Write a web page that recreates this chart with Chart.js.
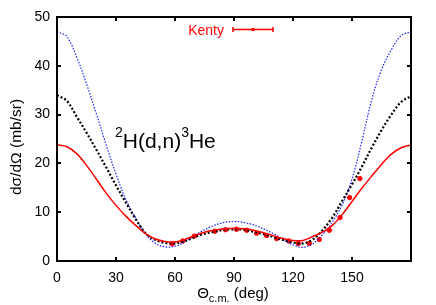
<!DOCTYPE html>
<html>
<head>
<meta charset="utf-8">
<script src="https://cdn.jsdelivr.net/npm/chart.js@4/dist/chart.umd.min.js"></script>
<style>
  html, body { margin: 0; padding: 0; background: #fff; }
  #wrap { width: 436px; height: 305px; }
</style>
</head>
<body>
<div id="wrap"><canvas id="c" width="436" height="305"></canvas></div>
<script>
// ---- data ----
const angles = [0,5,10,15,20,25,30,35,40,45,50,55,60,65,70,75,80,85,90,95,100,105,110,115,120,125,130,135,140,145,150,155,160,165,170,175,180];
const redCurve = [23.8,23.4,22.0,19.6,16.8,13.9,11.4,9.2,7.3,5.6,4.5,4.0,3.9,4.4,5.2,5.9,6.3,6.6,6.7,6.6,6.3,5.8,5.2,4.6,4.2,4.2,5.0,5.9,7.3,9.5,12.2,14.9,17.4,19.8,21.9,23.2,23.8];
const blackCurve = [34.0,32.8,29.6,26.3,22.8,19.2,15.5,12.0,8.6,5.7,4.3,3.7,3.6,4.1,4.9,5.6,6.0,6.4,6.5,6.4,6.0,5.5,4.9,4.3,3.8,3.6,4.4,6.3,8.9,12.3,15.7,19.3,23.2,26.8,30.0,32.6,33.8];
const blueCurve = [47.0,46.0,41.8,36.3,30.2,23.8,17.8,12.6,8.8,5.6,3.6,2.9,3.0,3.9,5.2,6.4,7.3,7.9,8.1,7.9,7.4,6.6,5.6,4.4,3.3,2.8,3.5,5.4,8.0,11.5,16.8,24.5,33.0,39.2,43.3,46.2,47.0];
const kentyAngles = [58.6,63.9,69.8,80.3,85.7,91.3,96.4,101.5,106.6,111.7,117.8,122.7,128.3,133.4,138.5,143.9,148.8,154.0];
const kentyValues = [3.5,4.1,5.1,6.1,6.4,6.5,6.3,5.7,5.2,4.6,4.1,3.6,3.6,4.4,6.3,8.9,13.0,16.9];
const xTickValues = [0,30,60,90,120,150,180];
const yTickValues = [0,10,20,30,40,50];
const legendLabel = "Kenty";
const yTitle = "dσ/dΩ (mb/sr)";
const FONT = "'Liberation Sans', Arial, Helvetica, sans-serif";

const toXY = (xs, ys) => xs.map((v, i) => ({ x: v, y: ys[i] }));

const decorPlugin = {
  id: 'decor',
  afterDatasetsDraw(chart) {
    const { ctx, chartArea: a, scales: { x, y } } = chart;
    ctx.save();
    // frame
    ctx.strokeStyle = '#000';
    ctx.lineWidth = 2;
    ctx.strokeRect(a.left, a.top, a.right - a.left, a.bottom - a.top);
    // inward ticks
    ctx.lineWidth = 2;
    const tl = 4;
    xTickValues.forEach(v => {
      const px = Math.round(x.getPixelForValue(v));
      ctx.beginPath();
      ctx.moveTo(px, a.bottom); ctx.lineTo(px, a.bottom - tl);
      ctx.moveTo(px, a.top); ctx.lineTo(px, a.top + tl);
      ctx.stroke();
    });
    yTickValues.forEach(v => {
      const py = Math.round(y.getPixelForValue(v));
      ctx.beginPath();
      ctx.moveTo(a.left, py); ctx.lineTo(a.left + tl, py);
      ctx.moveTo(a.right, py); ctx.lineTo(a.right - tl, py);
      ctx.stroke();
    });
    // legend
    ctx.fillStyle = '#ff0000';
    ctx.strokeStyle = '#ff0000';
    ctx.font = '14px ' + FONT;
    ctx.textAlign = 'right';
    ctx.textBaseline = 'alphabetic';
    ctx.fillText(legendLabel, 224, 35);
    ctx.lineWidth = 1.5;
    ctx.beginPath();
    ctx.moveTo(233, 29.5); ctx.lineTo(273, 29.5);
    ctx.moveTo(233, 27); ctx.lineTo(233, 32);
    ctx.moveTo(273, 27); ctx.lineTo(273, 32);
    ctx.stroke();
    ctx.beginPath();
    ctx.arc(253, 29.5, 1.8, 0, Math.PI * 2);
    ctx.fill();
    // reaction annotation
    ctx.fillStyle = '#000';
    ctx.textAlign = 'left';
    let cx = 115;
    const base = 148;
    const parts = [["2", true], ["H(d,n)", false], ["3", true], ["He", false]];
    parts.forEach(([t, sup]) => {
      ctx.font = (sup ? '14px ' : '21px ') + FONT;
      ctx.fillText(t, cx, sup ? base - 11 : base);
      cx += ctx.measureText(t).width;
    });
    // y title
    ctx.save();
    ctx.translate(17, 147);
    ctx.rotate(-Math.PI / 2);
    ctx.font = '15.5px ' + FONT;
    ctx.textAlign = 'center';
    ctx.textBaseline = 'middle';
    ctx.fillText(yTitle, 0, 0);
    ctx.restore();
    // x title with subscript
    ctx.font = '15px ' + FONT;
    const w1 = ctx.measureText('Θ').width;
    ctx.font = '11px ' + FONT;
    const w2 = ctx.measureText('c.m.').width;
    ctx.font = '15px ' + FONT;
    const w3 = ctx.measureText(' (deg)').width;
    let sx = 233 - (w1 + w2 + w3) / 2;
    const xb = 298;
    ctx.textAlign = 'left';
    ctx.fillText('Θ', sx, xb); sx += w1;
    ctx.font = '11px ' + FONT;
    ctx.fillText('c.m.', sx, xb + 4); sx += w2;
    ctx.font = '15px ' + FONT;
    ctx.fillText(' (deg)', sx, xb);
    ctx.restore();
  }
};

new Chart(document.getElementById('c'), {
  type: 'scatter',
  data: {
    datasets: [
      {
        label: 'red', type: 'line', data: toXY(angles, redCurve),
        borderColor: '#ff0000', borderWidth: 1.5, pointRadius: 0, tension: 0.35, fill: false
      },
      {
        label: 'black', type: 'line', data: toXY(angles, blackCurve),
        borderColor: '#000000', borderWidth: 2.2, borderDash: [2, 2], pointRadius: 0, tension: 0.35, fill: false
      },
      {
        label: 'blue', type: 'line', data: toXY(angles, blueCurve),
        borderColor: '#2020ff', borderWidth: 1.2, borderDash: [1.5, 1.5], pointRadius: 0, tension: 0.35, fill: false
      },
      {
        label: legendLabel, data: toXY(kentyAngles, kentyValues),
        backgroundColor: '#ff0000', borderColor: '#ff0000', pointRadius: 2.2, pointStyle: 'circle'
      }
    ]
  },
  options: {
    responsive: false,
    animation: false,
    devicePixelRatio: 1,
    layout: { padding: { top: 17, right: 25, left: 0, bottom: 0 } },
    plugins: { legend: { display: false }, tooltip: { enabled: false } },
    scales: {
      x: {
        type: 'linear', min: 0, max: 180,
        afterBuildTicks: s => { s.ticks = xTickValues.map(v => ({ value: v })); },
        ticks: {
          callback: v => (v === 180 ? '' : String(v)),
          font: { size: 14, family: FONT }, color: '#000', padding: 9, maxRotation: 0, autoSkip: false
        },
        grid: { display: false, drawTicks: false },
        border: { display: false },
        afterFit: s => { s.height = 44; }
      },
      y: {
        type: 'linear', min: 0, max: 50,
        afterBuildTicks: s => { s.ticks = yTickValues.map(v => ({ value: v })); },
        ticks: { font: { size: 14, family: FONT }, color: '#000', padding: 7 },
        grid: { display: false, drawTicks: false },
        border: { display: false },
        afterFit: s => { s.width = 57; }
      }
    }
  },
  plugins: [decorPlugin]
});
</script>
</body>
</html>
